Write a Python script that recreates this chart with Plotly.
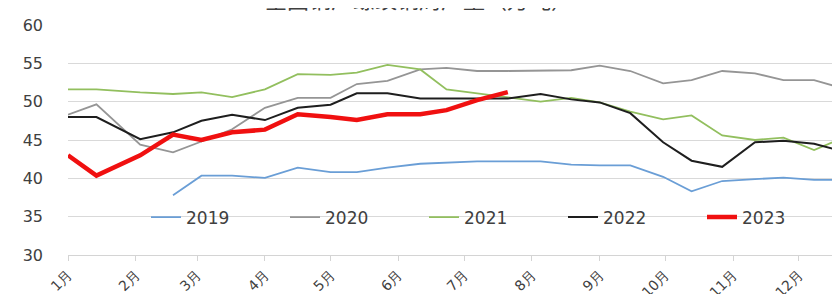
import plotly.graph_objects as go

# Data (x positions expressed on a common reference year, month-day)
dates = ["01-01", "01-14", "02-03", "02-18", "03-03", "03-17", "04-01", "04-16",
         "05-01", "05-13", "05-27", "06-11", "06-23", "07-07", "07-21", "08-05",
         "08-19", "09-01", "09-15", "09-30", "10-13", "10-27", "11-11", "11-24",
         "12-08", "12-23"]

y2019 = [None, None, None, 37.8, 40.35, 40.35, 40.05, 41.4, 40.8, 40.8, 41.4, 41.9, 42.0,
         42.2, 42.2, 42.2, 41.8, 41.7, 41.7, 40.2, 38.3, 39.65, 39.9, 40.1, 39.8, 39.8]
y2020 = [48.3, 49.65, 44.4, 43.4, 44.8, 46.4, 49.2, 50.5, 50.5, 52.3, 52.7, 54.2, 54.4,
         54.0, 54.0, 54.1, 54.1, 54.7, 54.0, 52.4, 52.8, 54.0, 53.7, 52.8, 52.8, 51.6]
y2021 = [51.6, 51.6, 51.2, 51.0, 51.2, 50.6, 51.6, 53.6, 53.5, 53.8, 54.8, 54.2, 51.6,
         51.1, 50.6, 50.0, 50.5, 49.9, 48.7, 47.7, 48.2, 45.6, 45.0, 45.3, 43.7, 45.5]
y2022 = [48.0, 48.0, 45.1, 46.0, 47.5, 48.3, 47.6, 49.2, 49.6, 51.1, 51.1, 50.4, 50.4,
         50.4, 50.4, 51.0, 50.3, 49.9, 48.5, 44.7, 42.3, 41.5, 44.7, 44.9, 44.5, 43.4]
y2023 = [43.0, 40.35, 43.0, 45.7, 45.0, 46.0, 46.35, 48.35, 48.0, 47.6, 48.35, 48.35, 48.9,
         50.2, 51.25, None, None, None, None, None, None, None, None, None, None, None]

series_names = ["2019", "2020", "2021", "2022", "2023"]
series_values = [y2019, y2020, y2021, y2022, y2023]
series_colors = ["#6A9ED6", "#959595", "#92BF5E", "#1E1E1E", "#F01010"]
series_widths = [1.8, 1.8, 1.8, 2.0, 4.5]

month_labels = ["1月", "2月", "3月", "4月", "5月", "6月", "7月", "8月", "9月", "10月", "11月", "12月"]
ref_year = "2023"

x = [f"{ref_year}-{d}" for d in dates]
tickvals = [f"{ref_year}-{m:02d}-01" for m in range(1, 13)]

fig = go.Figure()
for name, vals, col, w in zip(series_names, series_values, series_colors, series_widths):
    fig.add_trace(go.Scatter(x=x, y=vals, name=name, mode="lines",
                             line=dict(color=col, width=w), connectgaps=False))

fig.update_layout(
    width=840, height=294,
    margin=dict(l=60, r=0, t=17, b=47),
    paper_bgcolor="white", plot_bgcolor="white",
    font=dict(family="DejaVu Sans", color="#404040"),
    showlegend=True,
    legend=dict(orientation="h", x=0.10, xanchor="left", y=0.163, yanchor="middle",
                bgcolor="rgba(0,0,0,0)", font=dict(size=17, color="#404040"),
                entrywidth=94, entrywidthmode="pixels", itemclick=False,
                tracegroupgap=0),
    xaxis=dict(type="date", range=[f"{ref_year}-01-01", f"{ref_year}-12-23 12:00"],
               tickvals=tickvals, ticktext=month_labels, tickangle=-45,
               tickfont=dict(size=14, color="#404040"),
               showgrid=False, showline=True, linecolor="#D4D4D4", linewidth=1,
               ticks="outside", ticklen=5, tickcolor="#D4D4D4", zeroline=False),
    yaxis=dict(range=[30, 60], dtick=5, tick0=30, showgrid=True, gridcolor="#D9D9D9",
               gridwidth=1, zeroline=False, showline=False,
               tickfont=dict(size=16, color="#404040"), ticklabelstandoff=24),
)

fig.add_annotation(text="全国钢厂螺纹钢周产量（万吨）", xref="paper", yref="paper",
                   x=0.45, y=1.04, xanchor="center", yanchor="bottom", showarrow=False,
                   font=dict(size=22, color="#404040", family="Noto Sans CJK SC"))

fig.write_html("out.html")
